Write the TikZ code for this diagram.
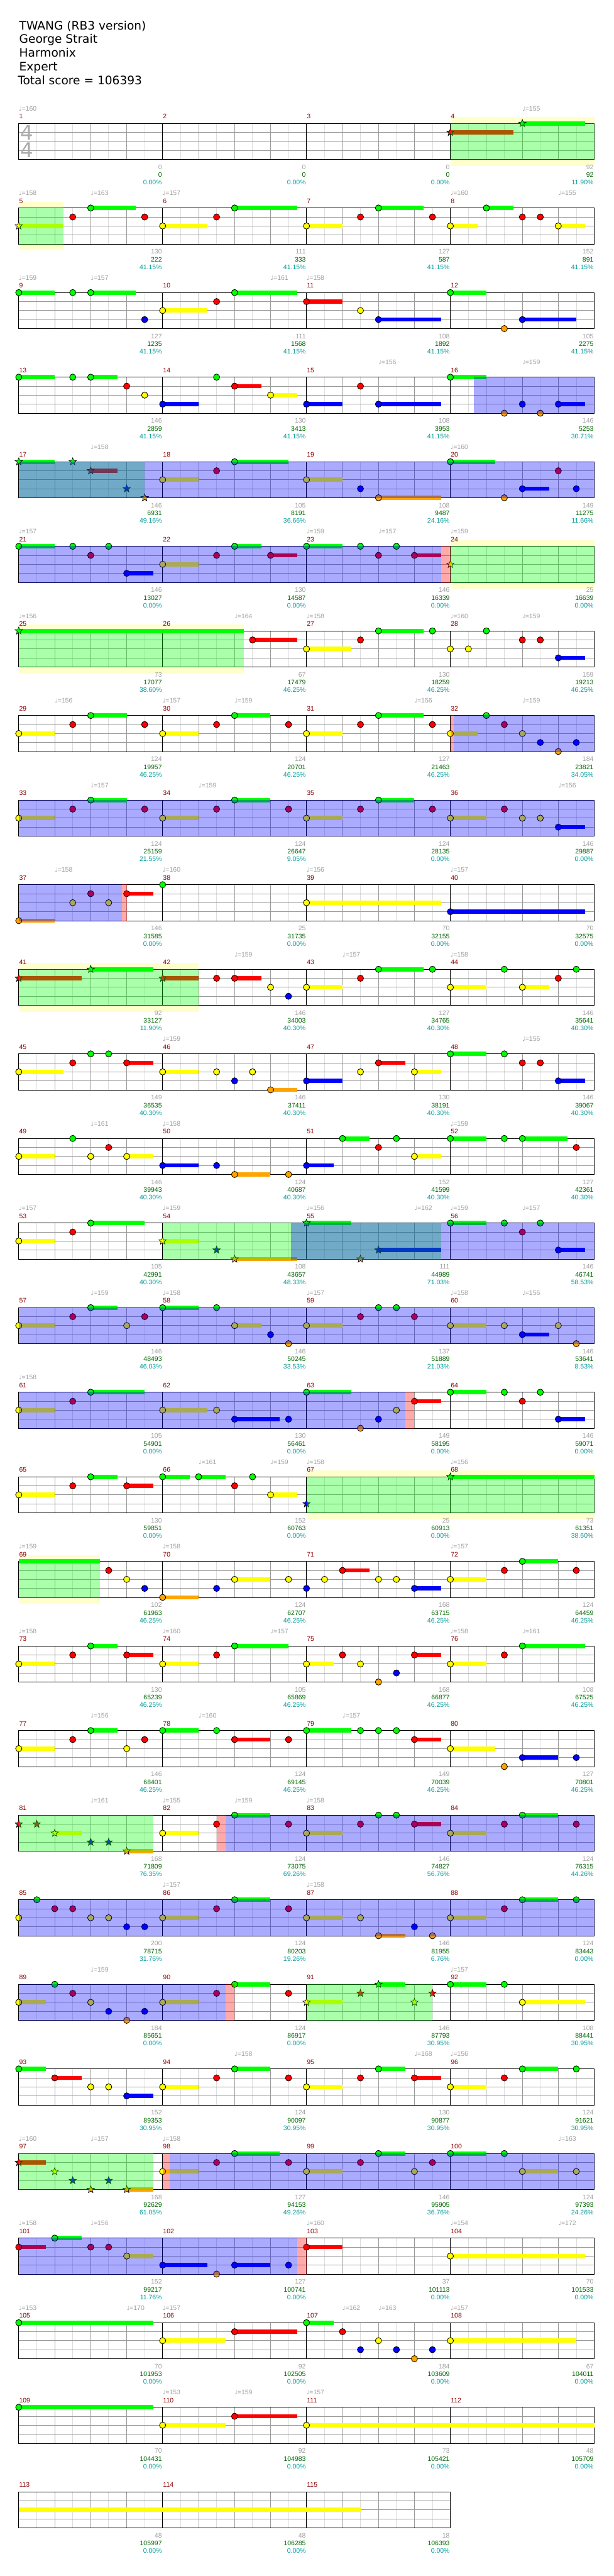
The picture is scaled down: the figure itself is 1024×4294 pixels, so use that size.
\documentclass[tikz,border=0pt]{standalone}
\usepackage{fontspec}
\setmainfont{Liberation Sans}
\newfontfamily\dv{DejaVu Sans}
\usetikzlibrary{shapes.geometric}
\definecolor{cG}{HTML}{00FF00}
\definecolor{cR}{HTML}{FF0000}
\definecolor{cY}{HTML}{FFFF00}
\definecolor{cB}{HTML}{0000FF}
\definecolor{cO}{HTML}{FFA500}
\definecolor{gl}{HTML}{999999}
\definecolor{ll}{HTML}{DDDDDD}
\definecolor{scg}{HTML}{A0A0A0}
\definecolor{scd}{HTML}{006600}
\definecolor{pct}{HTML}{009999}
\definecolor{mnum}{HTML}{8B0000}
\definecolor{paley}{HTML}{FFFFCC}
\definecolor{tsg}{HTML}{AAAAAA}
\def\laneG{0}\def\laneR{1}\def\laneY{2}\def\laneB{3}\def\laneO{4}
\newcounter{qid}
\tikzset{
 mtx/.style={anchor=base west,inner sep=0pt,font=\fontsize{11}{12}\selectfont},
 rtx/.style={anchor=base east,inner sep=0pt,font=\fontsize{11}{12}\selectfont},
 ttl/.style={anchor=base west,inner sep=0pt,font=\dv\fontsize{19.5}{21}\selectfont},
 starnote/.style={star,star points=5,star point ratio=2.4,minimum size=13pt,inner sep=0pt,draw=black,line width=0.7pt},
}
\newcommand\setrow[1]{\pgfmathsetmacro\qT{205.7+141*#1}}
\newcommand\qn[2]{\edef\qL{\csname lane#2\endcsname}\path[draw=black,line width=0.9pt,fill=c#2] (31.3+30*#1,\qT+15*\qL) circle[radius=5.2pt];}
\newcommand\qs[2]{\edef\qL{\csname lane#2\endcsname}\stepcounter{qid}\node[starnote,fill=c#2] (st\arabic{qid}) at (31.3+30*#1,\qT+15*\qL) {};}
\newcommand\qsb[3]{\edef\qL{\csname lane#3\endcsname}\fill[c#3] (31.3+30*#1,\qT+15*\qL-3.5) rectangle (31.3+30*#2,\qT+15*\qL+3.5);}
\newcommand\qns[3]{\qsb{#1}{#3}{#2}\qn{#1}{#2}}
\newcommand\qss[3]{\qsb{#1}{#3}{#2}\qs{#1}{#2}}
\newcommand\ovB[2]{\fill[cB,opacity=0.3333] (31.3+30*#1,\qT-0.6) rectangle (31.3+30*#2,\qT+60.9);}
\newcommand\ovG[2]{\fill[cG,opacity=0.3333] (31.3+30*#1,\qT-0.6) rectangle (31.3+30*#2,\qT+60.9);}
\newcommand\ovP[2]{\fill[cR,opacity=0.3333] (31.3+30*#1,\qT-0.6) rectangle (31.3+30*#2,\qT+60.9);}
\newcommand\qpale[2]{\fill[paley] (31.3+30*#1,\qT-10.7) rectangle (31.3+30*#2,\qT+71);}
\newcommand\qgrid[1]{%
 \fill[white] (31.3,\qT) rectangle (31.3+30*#1,\qT+60.3);
 \foreach \k in {1,3,...,31}{\ifnum\k<#1\relax\draw[ll,line width=1pt] (31.3+30*\k,\qT) -- (31.3+30*\k,\qT+60.3);\fi}
 \foreach \k in {2,4,6,10,12,14,18,20,22,26,28,30}{\ifnum\k<#1\relax\draw[gl,line width=1pt] (31.3+30*\k,\qT) -- (31.3+30*\k,\qT+60.3);\fi}
 \foreach \j in {1,2,3}{\draw[gl,line width=1pt] (31.3,\qT+15*\j) -- (31.3+30*#1,\qT+15*\j);}
 \foreach \k in {8,16,24}{\ifnum\k<#1\relax\draw[black,line width=1pt] (31.3+30*\k,\qT) -- (31.3+30*\k,\qT+60.3);\fi}
 \draw[black,line width=1.2pt] (31.3,\qT) rectangle (31.3+30*#1,\qT+60.3);}
\newcommand\qtp[2]{\stepcounter{qid}\node[mtx,text=scg] (tp\arabic{qid}) at (31.3+30*#1,\qT-20.7) {{\dv\fontsize{10}{10}\selectfont ♩}=#2};}
\newcommand\qm[5]{\stepcounter{qid}%
 \node[mtx,text=mnum] (mn\arabic{qid}) at (31.3+240*#1+0.5,\qT-7.7) {#2};
 \node[rtx,text=scg] (sa\arabic{qid}) at (31.3+240*#1+239,\qT+76.3) {#3};
 \node[rtx,text=scd] (sb\arabic{qid}) at (31.3+240*#1+239,\qT+89.6) {#4};
 \node[rtx,text=pct] (sc\arabic{qid}) at (31.3+240*#1+239,\qT+102.3) {#5\%};}
\begin{document}
\begin{tikzpicture}[x=1pt,y=-1pt]
\useasboundingbox (0,0) rectangle (1024,4294);
\fill[white] (0,0) rectangle (1024,4294);
\node[ttl] (t1) at (32,49.3) {TWANG (RB3 version)};
\node[ttl] (t2) at (32,72.3) {George Strait};
\node[ttl] (t3) at (32,95.3) {Harmonix};
\node[ttl] (t4) at (32,118.3) {Expert};
\node[ttl] (t5) at (29.5,141.3) {Total score = 106393};
% row 0
\setrow{0}\qpale{24}{32}\qgrid{32}
\node[anchor=base,inner sep=0pt,text=tsg,font=\dv\fontsize{34}{34}\selectfont] (ts1) at (44.6,233.3) {4};
\node[anchor=base,inner sep=0pt,text=tsg,font=\dv\fontsize{34}{34}\selectfont] (ts2) at (44.6,262.7) {4};
\qtp{0}{160}\qtp{28}{155}
\qss{24}{R}{27.5}\qss{28}{G}{31.5}
\ovG{24}{32}
\qm{0}{1}{0}{0}{0.00}\qm{1}{2}{0}{0}{0.00}\qm{2}{3}{0}{0}{0.00}\qm{3}{4}{92}{92}{11.90}
% row 1
\setrow{1}\qpale{0}{2.5}\qgrid{32}
\qtp{0}{158}\qtp{4}{163}\qtp{8}{157}\qtp{24}{160}\qtp{30}{155}
\qss{0}{Y}{2.5}\qn{3}{R}\qns{4}{G}{6.5}\qn{7}{R}\qns{8}{Y}{10.5}\qn{11}{R}\qns{12}{G}{15.5}\qns{16}{Y}{18}\qn{19}{R}\qns{20}{G}{22.5}\qn{23}{R}\qns{24}{Y}{25.5}\qns{26}{G}{27.5}\qn{28}{R}\qn{29}{R}\qns{30}{Y}{31.5}
\ovG{0}{2.5}
\qm{0}{5}{130}{222}{41.15}\qm{1}{6}{111}{333}{41.15}\qm{2}{7}{127}{587}{41.15}\qm{3}{8}{152}{891}{41.15}
% row 2
\setrow{2}\qgrid{32}
\qtp{0}{159}\qtp{4}{157}\qtp{14}{161}\qtp{16}{158}
\qns{0}{G}{2}\qn{3}{G}\qns{4}{G}{6.5}\qn{7}{B}\qns{8}{Y}{10.5}\qn{11}{R}\qns{12}{G}{15.5}\qns{16}{R}{18}\qn{19}{Y}\qns{20}{B}{23.5}\qns{24}{G}{26}\qn{27}{O}\qns{28}{B}{31}
\qm{0}{9}{127}{1235}{41.15}\qm{1}{10}{111}{1568}{41.15}\qm{2}{11}{108}{1892}{41.15}\qm{3}{12}{105}{2275}{41.15}
% row 3
\setrow{3}\qgrid{32}
\qtp{20}{156}\qtp{28}{159}
\qns{0}{G}{2}\qn{3}{G}\qns{4}{G}{5.5}\qn{6}{R}\qn{7}{Y}\qns{8}{B}{10}\qn{11}{G}\qns{12}{R}{13.5}\qns{14}{Y}{15.5}\qns{16}{B}{18}\qn{19}{R}\qns{20}{B}{23.5}\qns{24}{G}{26}\qn{27}{O}\qn{28}{B}\qn{29}{O}\qns{30}{B}{31.5}
\ovB{25.3}{32}
\qm{0}{13}{146}{2859}{41.15}\qm{1}{14}{130}{3413}{41.15}\qm{2}{15}{108}{3953}{41.15}\qm{3}{16}{146}{5253}{30.71}
% row 4
\setrow{4}\qgrid{32}
\qtp{4}{158}\qtp{24}{160}
\qss{0}{G}{2}\qs{3}{G}\qss{4}{R}{5.5}\qs{6}{B}\qs{7}{O}\qns{8}{Y}{10}\qn{11}{R}\qns{12}{G}{15}\qns{16}{Y}{18}\qn{19}{B}\qns{20}{O}{23.5}\qns{24}{G}{26.5}\qn{27}{O}\qns{28}{B}{29.5}\qn{30}{R}\qn{31}{B}
\ovG{0}{7}\ovB{0}{32}
\qm{0}{17}{146}{6931}{49.16}\qm{1}{18}{105}{8191}{36.66}\qm{2}{19}{108}{9487}{24.16}\qm{3}{20}{149}{11275}{11.66}
% row 5
\setrow{5}\qpale{24}{32}\qgrid{32}
\qtp{0}{157}\qtp{16}{159}\qtp{20}{157}\qtp{24}{159}
\qns{0}{G}{2}\qn{3}{G}\qn{4}{R}\qn{5}{G}\qns{6}{B}{7.5}\qns{8}{Y}{10}\qn{11}{R}\qns{12}{G}{13.5}\qns{14}{R}{15.5}\qns{16}{G}{18}\qn{19}{G}\qn{20}{R}\qn{21}{G}\qns{22}{R}{23.5}\qs{24}{Y}
\ovB{0}{23.5}\ovP{23.5}{24}\ovG{24}{32}
\qm{0}{21}{146}{13027}{0.00}\qm{1}{22}{130}{14587}{0.00}\qm{2}{23}{146}{16339}{0.00}\qm{3}{24}{25}{16639}{0.00}
% row 6
\setrow{6}\qpale{0}{12.5}\qgrid{32}
\qtp{0}{156}\qtp{12}{164}\qtp{16}{158}\qtp{24}{160}\qtp{28}{159}
\qss{0}{G}{12.5}\qns{13}{R}{15.5}\qns{16}{Y}{18.5}\qn{19}{R}\qns{20}{G}{22.5}\qn{23}{G}\qn{24}{Y}\qn{25}{Y}\qn{26}{G}\qn{28}{R}\qn{29}{R}\qns{30}{B}{31.5}
\ovG{0}{12.5}
\qm{0}{25}{73}{17077}{38.60}\qm{1}{26}{67}{17479}{46.25}\qm{2}{27}{130}{18259}{46.25}\qm{3}{28}{159}{19213}{46.25}
% row 7
\setrow{7}\qgrid{32}
\qtp{2}{156}\qtp{8}{157}\qtp{12}{159}\qtp{22}{156}\qtp{28}{159}
\qns{0}{Y}{2}\qn{3}{R}\qns{4}{G}{6}\qn{7}{R}\qns{8}{Y}{10}\qn{11}{R}\qns{12}{G}{14}\qn{15}{R}\qns{16}{Y}{18}\qn{19}{R}\qns{20}{G}{22.5}\qn{23}{R}\qns{24}{Y}{25.5}\qn{26}{G}\qn{27}{R}\qn{28}{Y}\qn{29}{B}\qn{30}{O}\qn{31}{B}
\ovP{24}{24.2}\ovB{24.2}{32}
\qm{0}{29}{124}{19957}{46.25}\qm{1}{30}{124}{20701}{46.25}\qm{2}{31}{127}{21463}{46.25}\qm{3}{32}{184}{23821}{34.05}
% row 8
\setrow{8}\qgrid{32}
\qtp{4}{157}\qtp{10}{159}\qtp{30}{156}
\qns{0}{Y}{2}\qn{3}{R}\qns{4}{G}{6}\qn{7}{R}\qns{8}{Y}{10}\qn{11}{R}\qns{12}{G}{14}\qn{15}{R}\qns{16}{Y}{18}\qn{19}{R}\qns{20}{G}{22}\qn{23}{R}\qns{24}{Y}{26}\qn{27}{R}\qn{28}{Y}\qn{29}{Y}\qns{30}{B}{31.5}
\ovB{0}{32}
\qm{0}{33}{124}{25159}{21.55}\qm{1}{34}{124}{26647}{9.05}\qm{2}{35}{124}{28135}{0.00}\qm{3}{36}{146}{29887}{0.00}
% row 9
\setrow{9}\qgrid{32}
\qtp{2}{158}\qtp{8}{160}\qtp{16}{156}\qtp{24}{157}
\qns{0}{O}{2}\qn{3}{Y}\qn{4}{R}\qn{5}{Y}\qns{6}{R}{7.5}\qn{8}{G}\qns{16}{Y}{23.5}\qns{24}{B}{31.5}
\ovB{0}{5.75}\ovP{5.75}{6}
\qm{0}{37}{146}{31585}{0.00}\qm{1}{38}{25}{31735}{0.00}\qm{2}{39}{70}{32155}{0.00}\qm{3}{40}{70}{32575}{0.00}
% row 10
\setrow{10}\qpale{0}{10}\qgrid{32}
\qtp{12}{159}\qtp{18}{157}\qtp{24}{158}
\qss{0}{R}{3.5}\qss{4}{G}{7.5}\qss{8}{R}{10}\qn{11}{R}\qns{12}{R}{13.5}\qn{14}{Y}\qn{15}{B}\qns{16}{Y}{18}\qn{19}{R}\qns{20}{G}{22.5}\qn{23}{G}\qns{24}{Y}{26}\qn{27}{G}\qns{28}{Y}{29.5}\qn{30}{R}\qn{31}{G}
\ovG{0}{10}
\qm{0}{41}{92}{33127}{11.90}\qm{1}{42}{146}{34003}{40.30}\qm{2}{43}{127}{34765}{40.30}\qm{3}{44}{146}{35641}{40.30}
% row 11
\setrow{11}\qgrid{32}
\qtp{8}{159}\qtp{28}{156}
\qns{0}{Y}{2.5}\qn{3}{R}\qn{4}{G}\qn{5}{G}\qns{6}{R}{7.5}\qns{8}{Y}{10}\qn{11}{Y}\qn{12}{B}\qn{13}{Y}\qns{14}{O}{15.5}\qns{16}{B}{18}\qn{19}{Y}\qns{20}{R}{21.5}\qns{22}{Y}{23.5}\qns{24}{G}{26}\qn{27}{G}\qn{28}{R}\qn{29}{R}\qns{30}{B}{31.5}
\qm{0}{45}{149}{36535}{40.30}\qm{1}{46}{146}{37411}{40.30}\qm{2}{47}{130}{38191}{40.30}\qm{3}{48}{146}{39067}{40.30}
% row 12
\setrow{12}\qgrid{32}
\qtp{4}{161}\qtp{8}{158}\qtp{24}{159}
\qns{0}{Y}{2}\qn{3}{G}\qn{4}{Y}\qn{5}{R}\qns{6}{Y}{7.5}\qns{8}{B}{10}\qn{11}{B}\qns{12}{O}{14}\qn{15}{O}\qns{16}{B}{17.5}\qns{18}{G}{19.5}\qn{20}{R}\qn{21}{G}\qns{22}{Y}{23.5}\qns{24}{G}{26}\qn{27}{G}\qns{28}{G}{30.5}\qn{31}{R}
\qm{0}{49}{146}{39943}{40.30}\qm{1}{50}{124}{40687}{40.30}\qm{2}{51}{152}{41599}{40.30}\qm{3}{52}{127}{42361}{40.30}
% row 13
\setrow{13}\qgrid{32}
\qtp{0}{157}\qtp{8}{159}\qtp{16}{156}\qtp{22}{162}\qtp{24}{159}\qtp{28}{157}
\qns{0}{Y}{2}\qn{3}{R}\qns{4}{G}{7}\qss{8}{Y}{10}\qs{11}{B}\qss{12}{O}{15.5}\qss{16}{G}{18.5}\qs{19}{O}\qss{20}{B}{23.5}\qns{24}{G}{26}\qn{27}{G}\qn{28}{R}\qn{29}{G}\qns{30}{B}{31.5}
\ovG{8}{23.5}\ovB{15.13}{32}
\qm{0}{53}{105}{42991}{40.30}\qm{1}{54}{108}{43657}{48.33}\qm{2}{55}{111}{44989}{71.03}\qm{3}{56}{146}{46741}{58.53}
% row 14
\setrow{14}\qgrid{32}
\qtp{4}{159}\qtp{8}{158}\qtp{16}{157}\qtp{24}{158}\qtp{28}{156}
\qns{0}{Y}{2}\qn{3}{R}\qns{4}{G}{5.5}\qn{6}{Y}\qn{7}{R}\qns{8}{G}{10}\qn{11}{G}\qns{12}{Y}{13.5}\qn{14}{B}\qn{15}{O}\qns{16}{Y}{18}\qn{19}{R}\qn{20}{G}\qn{21}{G}\qn{22}{R}\qns{24}{Y}{26}\qn{27}{Y}\qns{28}{B}{29.5}\qn{30}{Y}\qn{31}{O}
\ovB{0}{32}
\qm{0}{57}{146}{48493}{46.03}\qm{1}{58}{146}{50245}{33.53}\qm{2}{59}{137}{51889}{21.03}\qm{3}{60}{146}{53641}{8.53}
% row 15
\setrow{15}\qgrid{32}
\qtp{0}{158}
\qns{0}{Y}{2}\qn{3}{R}\qns{4}{G}{7}\qns{8}{Y}{10.5}\qn{11}{Y}\qns{12}{B}{14.5}\qn{15}{B}\qns{16}{G}{18.5}\qn{19}{O}\qn{20}{B}\qn{21}{Y}\qns{22}{R}{23.5}\qns{24}{G}{26}\qn{27}{G}\qn{28}{R}\qn{29}{G}\qns{30}{B}{31.5}
\ovB{0}{21.5}\ovP{21.5}{22}
\qm{0}{61}{105}{54901}{0.00}\qm{1}{62}{130}{56461}{0.00}\qm{2}{63}{149}{58195}{0.00}\qm{3}{64}{146}{59071}{0.00}
% row 16
\setrow{16}\qpale{16}{32}\qgrid{32}
\qtp{10}{161}\qtp{14}{159}\qtp{16}{158}\qtp{24}{156}
\qns{0}{Y}{2}\qn{3}{R}\qns{4}{G}{5.5}\qns{6}{R}{7.5}\qns{8}{G}{9.5}\qns{10}{G}{11.5}\qn{12}{R}\qn{13}{G}\qns{14}{Y}{15.5}\qs{16}{B}\qss{24}{G}{32}
\ovG{16}{32}
\qm{0}{65}{130}{59851}{0.00}\qm{1}{66}{152}{60763}{0.00}\qm{2}{67}{25}{60913}{0.00}\qm{3}{68}{73}{61351}{38.60}
% row 17
\setrow{17}\qpale{0}{4.5}\qgrid{32}
\qtp{0}{159}\qtp{8}{158}\qtp{24}{157}
\qsb{0}{4.5}{G}\qn{5}{R}\qn{6}{Y}\qn{7}{B}\qns{8}{O}{10}\qn{11}{B}\qns{12}{Y}{14}\qn{15}{Y}\qn{16}{B}\qn{17}{Y}\qns{18}{R}{19.5}\qn{20}{Y}\qn{21}{Y}\qns{22}{B}{23.5}\qns{24}{Y}{26}\qn{27}{R}\qns{28}{G}{30}\qn{31}{R}
\ovG{0}{4.5}
\qm{0}{69}{102}{61963}{46.25}\qm{1}{70}{124}{62707}{46.25}\qm{2}{71}{168}{63715}{46.25}\qm{3}{72}{124}{64459}{46.25}
% row 18
\setrow{18}\qgrid{32}
\qtp{0}{158}\qtp{8}{160}\qtp{14}{157}\qtp{24}{158}\qtp{28}{161}
\qns{0}{Y}{2}\qn{3}{R}\qns{4}{G}{5.5}\qns{6}{R}{7.5}\qns{8}{Y}{10}\qn{11}{R}\qns{12}{G}{15}\qns{16}{Y}{17.5}\qn{18}{R}\qn{19}{Y}\qn{20}{O}\qn{21}{B}\qns{22}{R}{23.5}\qns{24}{Y}{26}\qn{27}{R}\qns{28}{G}{31.5}
\qm{0}{73}{130}{65239}{46.25}\qm{1}{74}{105}{65869}{46.25}\qm{2}{75}{168}{66877}{46.25}\qm{3}{76}{108}{67525}{46.25}
% row 19
\setrow{19}\qgrid{32}
\qtp{4}{156}\qtp{10}{160}\qtp{18}{157}
\qns{0}{Y}{2}\qn{3}{R}\qns{4}{G}{5.5}\qn{6}{Y}\qn{7}{R}\qns{8}{G}{10}\qn{11}{G}\qns{12}{R}{14}\qn{15}{R}\qns{16}{G}{18.5}\qn{19}{G}\qn{20}{G}\qn{21}{G}\qns{22}{R}{23.5}\qns{24}{Y}{26.5}\qn{27}{O}\qns{28}{B}{30}\qn{31}{B}
\qm{0}{77}{146}{68401}{46.25}\qm{1}{78}{124}{69145}{46.25}\qm{2}{79}{149}{70039}{46.25}\qm{3}{80}{127}{70801}{46.25}
% row 20
\setrow{20}\qgrid{32}
\qtp{4}{161}\qtp{8}{155}\qtp{12}{159}\qtp{16}{158}
\qs{0}{R}\qs{1}{R}\qss{2}{Y}{3.5}\qs{4}{B}\qs{5}{B}\qss{6}{O}{7.5}\qns{8}{Y}{10}\qn{11}{R}\qns{12}{G}{14}\qn{15}{R}\qns{16}{Y}{18}\qn{19}{R}\qn{20}{G}\qn{21}{G}\qns{22}{R}{23.5}\qns{24}{Y}{26}\qn{27}{R}\qns{28}{G}{30}\qn{31}{R}
\ovG{0}{7.5}\ovP{11}{11.5}\ovB{11.5}{32}
\qm{0}{81}{168}{71809}{76.35}\qm{1}{82}{124}{73075}{69.26}\qm{2}{83}{146}{74827}{56.76}\qm{3}{84}{124}{76315}{44.26}
% row 21
\setrow{21}\qgrid{32}
\qtp{8}{157}\qtp{16}{158}
\qn{0}{Y}\qn{1}{G}\qn{2}{R}\qn{3}{R}\qn{4}{Y}\qn{5}{Y}\qn{6}{B}\qn{7}{B}\qns{8}{Y}{10}\qn{11}{R}\qns{12}{G}{14}\qn{15}{R}\qns{16}{Y}{18}\qn{19}{Y}\qns{20}{O}{21.5}\qn{22}{B}\qn{23}{O}\qns{24}{Y}{26}\qn{27}{R}\qns{28}{G}{30}\qn{31}{G}
\ovB{0}{32}
\qm{0}{85}{200}{78715}{31.76}\qm{1}{86}{124}{80203}{19.26}\qm{2}{87}{146}{81955}{6.76}\qm{3}{88}{124}{83443}{0.00}
% row 22
\setrow{22}\qgrid{32}
\qtp{4}{159}\qtp{24}{157}
\qns{0}{Y}{1.5}\qn{2}{G}\qn{3}{R}\qn{4}{Y}\qn{5}{B}\qn{6}{O}\qn{7}{B}\qns{8}{Y}{10}\qn{11}{R}\qns{12}{G}{14}\qn{15}{R}\qss{16}{Y}{18}\qs{19}{R}\qss{20}{G}{21.5}\qs{22}{Y}\qs{23}{R}\qns{24}{G}{26}\qn{27}{G}\qns{28}{Y}{31.5}
\ovB{0}{11.5}\ovP{11.5}{12}\ovG{16}{23}
\qm{0}{89}{184}{85651}{0.00}\qm{1}{90}{124}{86917}{0.00}\qm{2}{91}{146}{87793}{30.95}\qm{3}{92}{108}{88441}{30.95}
% row 23
\setrow{23}\qgrid{32}
\qtp{12}{158}\qtp{22}{168}\qtp{24}{156}
\qns{0}{G}{1.5}\qns{2}{R}{3.5}\qn{4}{Y}\qn{5}{Y}\qns{6}{B}{7.5}\qns{8}{Y}{10}\qn{11}{R}\qns{12}{G}{14}\qn{15}{R}\qns{16}{Y}{18}\qn{19}{R}\qns{20}{G}{21.5}\qns{22}{R}{23.5}\qns{24}{Y}{26}\qn{27}{R}\qns{28}{G}{30}\qn{31}{G}
\qm{0}{93}{152}{89353}{30.95}\qm{1}{94}{124}{90097}{30.95}\qm{2}{95}{130}{90877}{30.95}\qm{3}{96}{124}{91621}{30.95}
% row 24
\setrow{24}\qgrid{32}
\qtp{0}{160}\qtp{4}{157}\qtp{8}{158}\qtp{30}{163}
\qss{0}{R}{1.5}\qs{2}{Y}\qs{3}{B}\qs{4}{O}\qs{5}{B}\qss{6}{O}{7.5}\qns{8}{Y}{10}\qn{11}{R}\qns{12}{G}{14.5}\qn{15}{R}\qns{16}{Y}{18}\qn{19}{R}\qns{20}{G}{21.5}\qn{22}{Y}\qn{23}{R}\qns{24}{G}{26}\qn{27}{G}\qns{28}{Y}{30}\qn{31}{Y}
\ovG{0}{7.5}\ovP{8}{8.4}\ovB{8.4}{32}
\qm{0}{97}{168}{92629}{61.05}\qm{1}{98}{127}{94153}{49.26}\qm{2}{99}{146}{95905}{36.76}\qm{3}{100}{124}{97393}{24.26}
% row 25
\setrow{25}\qgrid{32}
\qtp{0}{158}\qtp{4}{156}\qtp{16}{160}\qtp{24}{154}\qtp{30}{172}
\qns{0}{R}{1.5}\qns{2}{G}{3.5}\qn{4}{R}\qn{5}{R}\qns{6}{Y}{7.5}\qns{8}{B}{10.5}\qn{11}{O}\qns{12}{B}{14}\qn{15}{B}\qns{16}{R}{18}\qns{24}{Y}{31.5}
\ovB{0}{15.5}\ovP{15.5}{16}
\qm{0}{101}{152}{99217}{11.76}\qm{1}{102}{127}{100741}{0.00}\qm{2}{103}{37}{101113}{0.00}\qm{3}{104}{70}{101533}{0.00}
% row 26
\setrow{26}\qgrid{32}
\qtp{0}{153}\qtp{6}{170}\qtp{8}{157}\qtp{18}{162}\qtp{20}{163}\qtp{24}{157}
\qns{0}{G}{7.5}\qns{8}{Y}{11.5}\qns{12}{R}{15.5}\qns{16}{G}{17.5}\qn{18}{R}\qn{19}{B}\qn{20}{Y}\qn{21}{B}\qn{22}{O}\qn{23}{B}\qns{24}{Y}{31}
\qm{0}{105}{70}{101953}{0.00}\qm{1}{106}{92}{102505}{0.00}\qm{2}{107}{184}{103609}{0.00}\qm{3}{108}{67}{104011}{0.00}
% row 27
\setrow{27}\qgrid{32}
\qtp{8}{153}\qtp{12}{159}\qtp{16}{157}
\qns{0}{G}{7.5}\qns{8}{Y}{11.5}\qns{12}{R}{15.5}\qns{16}{Y}{32}
\qm{0}{109}{70}{104431}{0.00}\qm{1}{110}{92}{104983}{0.00}\qm{2}{111}{73}{105421}{0.00}\qm{3}{112}{48}{105709}{0.00}
% row 28
\setrow{28}\qgrid{24}
\qsb{0}{19}{Y}
\qm{0}{113}{48}{105997}{0.00}\qm{1}{114}{48}{106285}{0.00}\qm{2}{115}{18}{106393}{0.00}
\end{tikzpicture}
\end{document}
